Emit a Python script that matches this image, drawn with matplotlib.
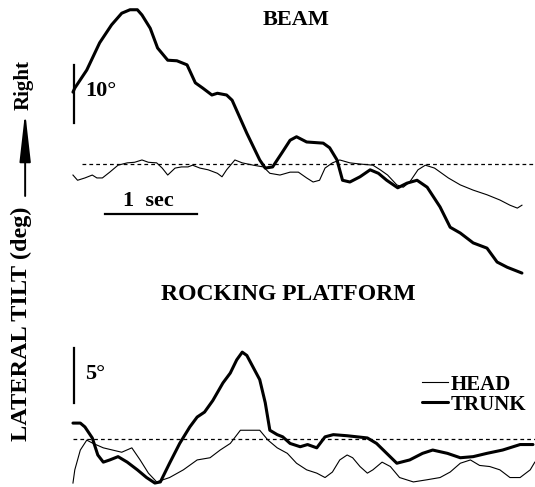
import numpy as np
import matplotlib
matplotlib.use("Agg")
import matplotlib.pyplot as plt

plt.rcParams['font.family'] = ['Liberation Serif', 'DejaVu Serif']
plt.rcParams['font.weight'] = 'bold'

# beam trial: time (s) and lateral tilt (deg)
beam_trunk_t = [0.00, 0.02, 0.15, 0.29, 0.42, 0.53, 0.62, 0.70, 0.75, 0.84, 0.92, 1.03, 1.13, 1.24,
                1.33, 1.41, 1.51, 1.57, 1.67, 1.73, 1.89, 2.03, 2.09, 2.17, 2.27, 2.36, 2.43, 2.54,
                2.72, 2.79, 2.87, 2.93, 3.01, 3.12, 3.23, 3.32, 3.41, 3.53, 3.63, 3.74, 3.85, 3.99,
                4.10, 4.21, 4.35, 4.50, 4.61, 4.72, 4.88]
beam_trunk = [12.4, 13.1, 16.2, 20.9, 24.0, 26.0, 26.6, 26.6, 25.7, 23.4, 20.0, 17.9, 17.8, 17.1,
              14.0, 13.1, 11.9, 12.2, 11.9, 11.0, 5.3, 0.7, -0.7, -0.5, 1.9, 4.1, 4.7, 3.8,
              3.6, 2.8, 0.7, -2.8, -3.1, -2.2, -1.0, -1.6, -2.8, -4.1, -3.3, -2.8, -4.0, -7.4,
              -10.9, -11.9, -13.6, -14.5, -16.9, -17.8, -18.8]

beam_head_t = [0.00, 0.05, 0.13, 0.21, 0.26, 0.32, 0.40, 0.49, 0.59, 0.67, 0.75, 0.82, 0.91, 0.97,
               1.03, 1.11, 1.18, 1.25, 1.30, 1.38, 1.47, 1.57, 1.62, 1.67, 1.76, 1.84, 1.96, 2.07,
               2.14, 2.25, 2.36, 2.45, 2.54, 2.61, 2.68, 2.74, 2.82, 2.90, 3.01, 3.12, 3.26, 3.34,
               3.42, 3.52, 3.59, 3.66, 3.75, 3.83, 3.93, 4.08, 4.21, 4.35, 4.50, 4.64, 4.75, 4.83,
               4.88]
beam_head = [-1.9, -2.8, -2.4, -1.9, -2.4, -2.4, -1.4, -0.2, 0.2, 0.3, 0.7, 0.3, 0.2, -0.7,
             -1.9, -0.7, -0.5, -0.5, -0.2, -0.7, -1.0, -1.6, -2.2, -1.0, 0.7, 0.2, -0.2, -0.5,
             -1.6, -1.9, -1.4, -1.4, -2.4, -3.1, -2.8, -0.7, 0.2, 0.7, 0.2, 0.0, -0.2, -1.0,
             -1.9, -3.6, -4.0, -3.1, -1.0, -0.2, -0.7, -2.4, -3.6, -4.5, -5.3, -6.2, -7.1, -7.6,
             -7.1]

# rocking platform trial
rock_trunk_t = [0.00, 0.08, 0.13, 0.21, 0.27, 0.33, 0.40, 0.49, 0.59, 0.70, 0.80, 0.89, 0.95, 1.05,
                1.16, 1.27, 1.35, 1.43, 1.52, 1.63, 1.71, 1.78, 1.84, 1.89, 1.96, 2.03, 2.09, 2.14,
                2.22, 2.28, 2.36, 2.47, 2.55, 2.65, 2.74, 2.83, 2.98, 3.09, 3.20, 3.30, 3.41, 3.52,
                3.66, 3.80, 3.91, 4.07, 4.21, 4.35, 4.50, 4.67, 4.86, 5.00]
rock_trunk = [1.45, 1.45, 1.1, 0.1, -1.45, -2.1, -1.9, -1.6, -2.1, -2.8, -3.5, -4.0, -3.9, -2.2,
              -0.4, 1.1, 2.0, 2.45, 3.5, 5.1, 6.0, 7.2, 7.9, 7.6, 6.5, 5.4, 3.3, 0.8,
              0.4, 0.2, -0.4, -0.7, -0.5, -0.8, 0.2, 0.4, 0.3, 0.2, 0.1, -0.4, -1.3, -2.2,
              -1.9, -1.3, -1.0, -1.3, -1.7, -1.6, -1.3, -1.0, -0.5, -0.5]

rock_head_t = [0.00, 0.02, 0.08, 0.15, 0.22, 0.33, 0.43, 0.53, 0.64, 0.73, 0.82, 0.91, 1.05, 1.20,
               1.35, 1.49, 1.60, 1.71, 1.82, 1.92, 2.03, 2.12, 2.22, 2.33, 2.43, 2.54, 2.65, 2.74,
               2.82, 2.90, 2.98, 3.04, 3.12, 3.20, 3.26, 3.36, 3.45, 3.55, 3.70, 3.85, 3.99, 4.10,
               4.21, 4.32, 4.42, 4.53, 4.64, 4.75, 4.86, 4.97, 5.02]
rock_head = [-4.0, -2.8, -1.0, -0.1, -0.4, -0.8, -1.0, -1.2, -0.8, -1.9, -3.1, -3.9, -3.5, -2.8,
             -1.9, -1.7, -1.0, -0.4, 0.8, 0.8, 0.8, -0.1, -0.8, -1.3, -2.2, -2.8, -3.1, -3.5,
             -3.0, -1.9, -1.45, -1.7, -2.5, -3.1, -2.8, -2.1, -2.5, -3.5, -3.9, -3.7, -3.5, -3.0,
             -2.2, -1.9, -2.4, -2.5, -2.8, -3.5, -3.5, -2.8, -2.1]

# scale bars
beam_bar_deg = 10
rock_bar_deg = 5
time_bar_sec = 1

fig = plt.figure(figsize=(5.35, 4.87), dpi=100)
ax1 = fig.add_axes([0, 1 - 290 / 487, 1, 290 / 487])
ax2 = fig.add_axes([0, 0, 1, 197 / 487])
for ax in (ax1, ax2):
    ax.set_axis_off()
    ax.set_xlim(-0.793, 5.022)
ax1.set_ylim(-21.72, 28.28)
ax2.set_ylim(-4.36, 13.55)

thin = dict(color='black', lw=0.8, solid_joinstyle='round')
thick = dict(color='black', lw=2.2, solid_joinstyle='round', solid_capstyle='round')
dash = dict(color='black', lw=0.9, ls=(0, (3, 2.5)))

# beam
ax1.plot([0.1, 5.022], [0, 0], **dash)
ax1.plot(beam_head_t, beam_head, **thin)
ax1.plot(beam_trunk_t, beam_trunk, **thick)
ax1.plot([0.01, 0.01], [7.07, 7.07 + beam_bar_deg], color='black', lw=1.6)
ax1.text(0.13, 12.6, f'{beam_bar_deg}°', fontsize=16, va='center', ha='left')
ax1.plot([0.35, 0.35 + time_bar_sec], [-8.6, -8.6], color='black', lw=1.6)
ax1.text(0.815, -6.3, f'{time_bar_sec}  sec', fontsize=16, ha='center', va='center')
ax1.text(2.43, 24.8, 'BEAM', fontsize=16, ha='center', va='center')

# rocking platform
ax2.plot([0.0, 5.022], [0, 0], **dash)
h_line, = ax2.plot(rock_head_t, rock_head, **thin, label='HEAD')
t_line, = ax2.plot(rock_trunk_t, rock_trunk, **thick, label='TRUNK')
ax2.plot([0.01, 0.01], [3.27, 3.27 + rock_bar_deg], color='black', lw=1.6)
ax2.text(0.13, 5.9, f'{rock_bar_deg}°', fontsize=16, va='center', ha='left')
ax2.text(2.34, 13.1, 'ROCKING PLATFORM', fontsize=17, ha='center', va='center')
ax2.legend(handles=[h_line, t_line], loc='upper left', bbox_to_anchor=(0.789, 0.57),
           frameon=False, handlelength=1.25, handletextpad=0.1, labelspacing=0.0,
           borderpad=0, borderaxespad=0,
           prop={'size': 15, 'weight': 'bold', 'family': 'Liberation Serif'})

# shared y label with direction arrow
fig.text(0.040, 1 - 324 / 487, 'LATERAL TILT (deg)', rotation=90, fontsize=17.5,
         ha='center', va='center')
fig.text(0.045, 1 - 85 / 487, 'Right', rotation=90, fontsize=15, ha='center', va='center')
fig.patches.append(matplotlib.patches.FancyArrowPatch(
    (0.047, 1 - 196 / 487), (0.047, 1 - 112 / 487), transform=fig.transFigure,
    arrowstyle='-|>,head_length=30,head_width=3.4', color='black', lw=1.4,
    mutation_scale=1, shrinkA=0, shrinkB=0))

fig.savefig('out.png', dpi=100)
